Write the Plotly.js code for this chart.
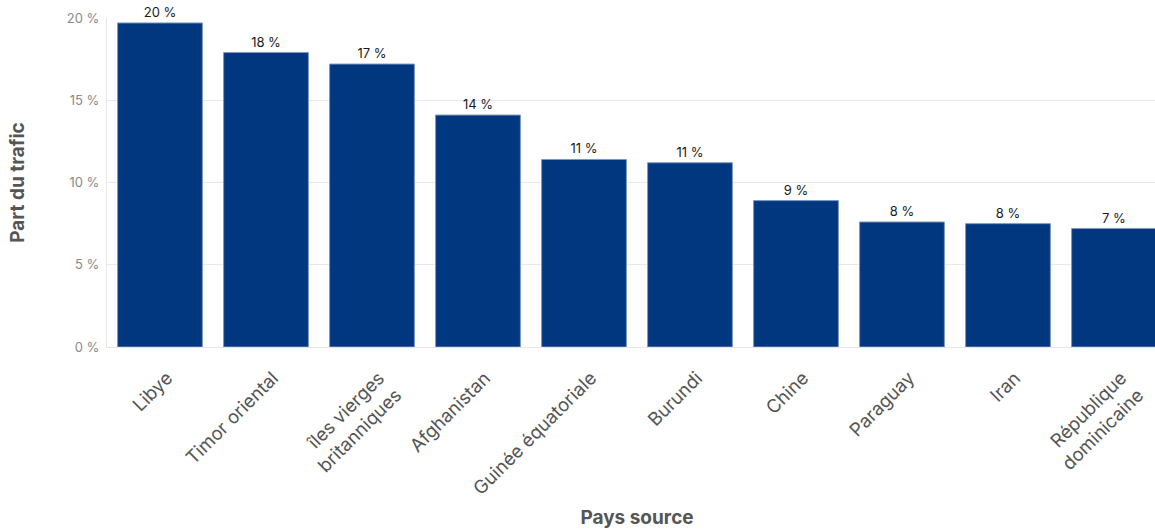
<!DOCTYPE html>
<html>
<head>
<meta charset="utf-8">
<script src="https://cdn.plot.ly/plotly-3.0.1.min.js"></script>
<style>
html,body{margin:0;padding:0;overflow:hidden;background:#fff;}
#chart{width:1168px;height:529px;}
</style>
</head>
<body>
<div id="chart"></div>
<script>
const countries = ["Libye","Timor oriental","îles vierges<br>britanniques","Afghanistan","Guinée équatoriale","Burundi","Chine","Paraguay","Iran","République<br>dominicaine"];
const shares = [19.7, 17.9, 17.2, 14.1, 11.4, 11.2, 8.9, 7.6, 7.5, 7.2];
const yTicks = [0, 5, 10, 15, 20];
const yTickLabels = ["0 %", "5 %", "10 %", "15 %", "20 %"];

const trace = {
  type: 'bar',
  x: countries,
  y: shares,
  marker: {color: '#00377f', line: {color: '#7d95c2', width: 1}},
  texttemplate: '%{y:.0f} %',
  textposition: 'outside',
  cliponaxis: false,
  textfont: {family: 'Inter, sans-serif', size: 13, color: '#1a1a1a'},
  hoverinfo: 'none',
  width: 0.8
};

const layout = {
  width: 1168,
  height: 529,
  margin: {l: 107, r: 1, t: 18, b: 182},
  paper_bgcolor: '#ffffff',
  plot_bgcolor: '#ffffff',
  font: {family: 'Inter, sans-serif'},
  showlegend: false,
  bargap: 0.2,
  xaxis: {
    type: 'category',
    tickangle: -45,
    tickfont: {family: 'Inter, sans-serif', size: 18.5, color: '#555555'},
    showgrid: false,
    showline: true,
    linecolor: '#e6e6e6',
    linewidth: 1,
    ticks: '',
    ticklabelstandoff: 12,
    ticklabelshift: 7,
    title: {text: 'Pays source', font: {family: 'Inter, sans-serif', size: 19, color: '#555555', weight: 'bold'}, standoff: 18}
  },
  yaxis: {
    range: [0, 20],
    tickmode: 'array',
    tickvals: yTicks,
    ticktext: yTickLabels,
    tickfont: {family: 'Inter, sans-serif', size: 13, color: '#8a8a8a'},
    gridcolor: '#e8e8e8',
    zeroline: false,
    showline: true,
    linecolor: '#e6e6e6',
    ticks: '',
    ticklabelstandoff: 4,
    title: {text: 'Part du trafic', font: {family: 'Inter, sans-serif', size: 19, color: '#555555', weight: 'bold'}, standoff: 37}
  }
};

Plotly.newPlot('chart', [trace], layout, {displayModeBar: false, staticPlot: true});
</script>
</body>
</html>
